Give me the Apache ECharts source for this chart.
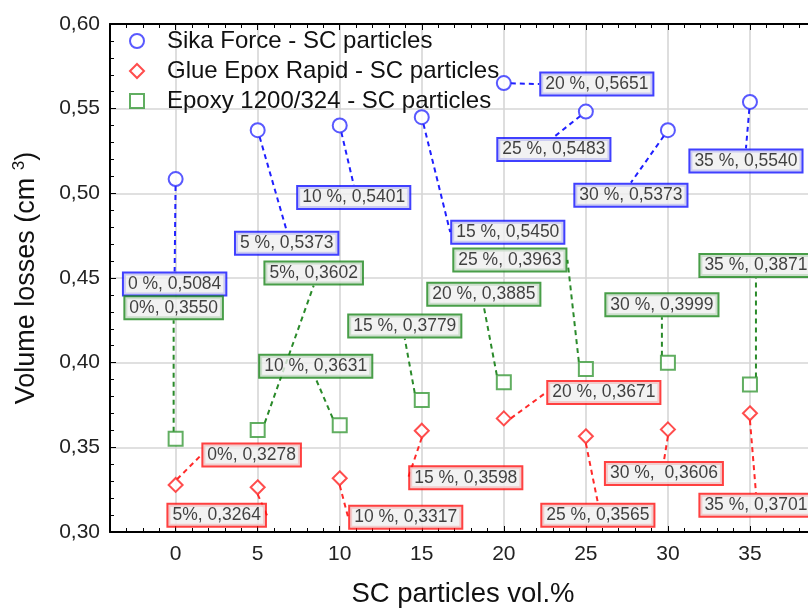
<!DOCTYPE html>
<html>
<head>
<meta charset="utf-8">
<script src="https://cdn.jsdelivr.net/npm/echarts@6/dist/echarts.min.js"></script>
<style>
html,body{margin:0;padding:0;background:#fff;}
#chart{width:808px;height:610px;}
</style>
</head>
<body>
<div id="chart"></div>
<script>
// ---- data ----
const xValues = [0, 5, 10, 15, 20, 25, 30, 35];
const sikaForce = [0.5084, 0.5373, 0.5401, 0.5450, 0.5651, 0.5483, 0.5373, 0.5540];
const glueEpox  = [0.3278, 0.3264, 0.3317, 0.3598, 0.3671, 0.3565, 0.3606, 0.3701];
const epoxy1200 = [0.3550, 0.3602, 0.3631, 0.3779, 0.3885, 0.3963, 0.3999, 0.3871];
const sikaLabels = ['0 %, 0,5084','5 %, 0,5373','10 %, 0,5401','15 %, 0,5450','20 %, 0,5651','25 %, 0,5483','30 %, 0,5373','35 %, 0,5540'];
const glueLabels = ['0%, 0,3278','5%, 0,3264','10 %, 0,3317','15 %, 0,3598','20 %, 0,3671','25 %, 0,3565','30 %,  0,3606','35 %, 0,3701'];
const epoxyLabels = ['0%, 0,3550','5%, 0,3602','10 %, 0,3631','15 %, 0,3779','20 %, 0,3885','25 %, 0,3963','30 %, 0,3999','35 %, 0,3871'];
const seriesNames = ['Sika Force - SC particles', 'Glue Epox Rapid - SC particles', 'Epoxy 1200/324 - SC particles'];
const xTickLabels = ['0','5','10','15','20','25','30','35','40'];
const yTickLabels = ['0,30','0,35','0,40','0,45','0,50','0,55','0,60'];
const xAxisTitle = 'SC particles vol.%';
const yAxisTitle = 'Volume losses (cm {sup|3})';

// ---- label placement (pixel offsets of label centre from its point) ----
const sikaOffsets  = [[-1,105],[29,113],[14,72],[86,115],[93,1],[-32,38],[-37,65],[-4,59]];
const glueOffsets  = [[76,-30],[-41,28],[66,39],[44,47],[100,-26],[12,79],[-4,44],[6,92]];
const epoxyOffsets = [[-2,-131],[56,-157],[-24,-59],[-17,-74],[-20,-88],[-76,-109],[-6,-58],[6,-119]];

const FONT = '"Liberation Sans", Arial, sans-serif';

function makeSeries(name, values, labels, offsets, symbol, symColor, boxColor, lineColor) {
  return {
    name: name,
    type: 'scatter',
    symbol: symbol,
    symbolSize: 14,
    itemStyle: { color: symColor, borderWidth: 1.6 },
    data: xValues.map((x, i) => [x, values[i]]),
    label: {
      show: true,
      position: 'inside',
      formatter: p => labels[p.dataIndex],
      fontFamily: FONT,
      fontSize: 17.5,
      lineHeight: 18,
      color: '#111',
      backgroundColor: '#efefef',
      borderColor: boxColor,
      borderWidth: 2,
      padding: [2, 4, 1, 4]
    },
    labelLine: {
      show: true,
      lineStyle: { color: lineColor, width: 2, type: [5, 4] }
    },
    labelLayout: function (params) {
      const o = offsets[params.dataIndex];
      return { dx: o[0], dy: o[1] };
    },
    z: 3
  };
}

const chart = echarts.init(document.getElementById('chart'), null, { renderer: 'canvas' });

const axisCommon = {
  axisLine: { show: true, onZero: false, lineStyle: { color: '#000', width: 2 } },
  axisTick: { show: true, inside: true, length: 6, lineStyle: { color: '#000' } },
  minorTick: { show: true, splitNumber: 5, length: 4, lineStyle: { color: '#000' } }
};

const option = {
  animation: false,
  backgroundColor: '#fff',
  textStyle: { fontFamily: FONT },
  grid: { left: 110, top: 24, height: 508, width: 722, containLabel: false, outerBoundsMode: 'none' },
  legend: {
    orient: 'vertical',
    left: 124,
    top: 24,
    itemWidth: 14,
    itemHeight: 14,
    itemGap: 6,
    selectedMode: false,
    textStyle: { fontFamily: FONT, fontSize: 24, color: '#111', padding: [0, 0, 0, 18], lineHeight: 22 },
    data: seriesNames
  },
  xAxis: [
    Object.assign({}, axisCommon, {
      type: 'value',
      min: -4,
      max: 40,
      splitNumber: 9,
      position: 'bottom',
      axisLabel: {
        fontFamily: FONT, fontSize: 21, color: '#222', margin: 12,
        formatter: v => (v % 5 === 0 && v >= 0) ? xTickLabels[v / 5] : ''
      },
      splitLine: { show: true, lineStyle: { color: '#d6d6d6', width: 1.6 } },
      name: xAxisTitle,
      nameLocation: 'middle',
      nameGap: 48,
      nameTextStyle: { fontFamily: FONT, fontSize: 27.5, color: '#111', padding: [0, 16, 0, 0] }
    }),
    Object.assign({}, axisCommon, {
      type: 'value',
      min: -4,
      max: 40,
      splitNumber: 9,
      position: 'top',
      axisLabel: { show: false },
      splitLine: { show: false }
    })
  ],
  yAxis: Object.assign({}, axisCommon, {
    type: 'value',
    min: 0.30,
    max: 0.60,
    interval: 0.05,
    position: 'left',
    axisLabel: {
      fontFamily: FONT, fontSize: 21, color: '#222', margin: 10,
      formatter: v => yTickLabels[Math.round((v - 0.30) / 0.05)]
    },
    splitLine: { show: true, lineStyle: { color: '#d6d6d6', width: 1.6 } },
    name: yAxisTitle,
    nameLocation: 'middle',
    nameGap: 68,
    nameRotate: 90,
    nameTextStyle: {
      fontFamily: FONT, fontSize: 27, color: '#111',
      rich: { sup: { fontFamily: FONT, fontSize: 17, color: '#111', padding: [0, 0, 14, 0] } }
    }
  }),
  series: [
    makeSeries(seriesNames[0], sikaForce, sikaLabels, sikaOffsets, 'emptyCircle', '#3030ff', '#1010ff', '#2020ff'),
    makeSeries(seriesNames[1], glueEpox, glueLabels, glueOffsets, 'emptyDiamond', '#ff2020', '#ff1010', '#ff2a2a'),
    makeSeries(seriesNames[2], epoxy1200, epoxyLabels, epoxyOffsets, 'emptyRect', '#3a9a3a', '#1a861a', '#2a8a2a')
  ]
};

chart.setOption(option);
</script>
</body>
</html>
